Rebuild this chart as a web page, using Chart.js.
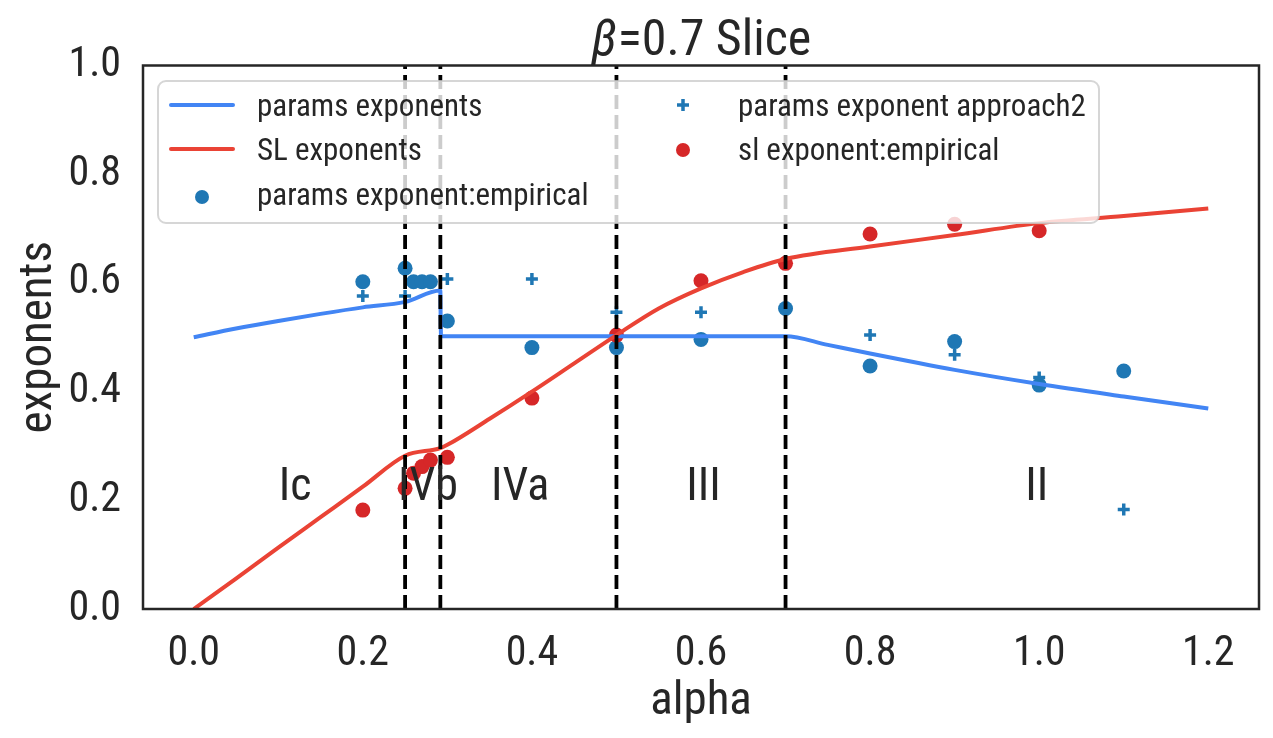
<!DOCTYPE html>
<html>
<head>
<meta charset="utf-8">
<script src="https://cdn.jsdelivr.net/npm/chart.js@4.4.1/dist/chart.umd.min.js"></script>
<style>
  html, body { margin: 0; padding: 0; background: #fff; }
  #wrap { width: 1273px; height: 738px; }
</style>
</head>
<body>
<div id="wrap"><canvas id="chart"></canvas></div>
<script>
// ---- data ----
const paramsLineX = [0, 0.05, 0.1, 0.15, 0.2, 0.25, 0.2917, 0.2920, 0.2925, 0.4, 0.5, 0.6, 0.7, 0.75, 0.8, 0.9, 1.0, 1.1, 1.2];
const paramsLineY = [0.500, 0.516, 0.530, 0.543, 0.555, 0.565, 0.586, 0.545, 0.502, 0.502, 0.502, 0.502, 0.502, 0.486, 0.470, 0.440, 0.414, 0.391, 0.369];

const slLineX = [0, 0.05, 0.1, 0.15, 0.2, 0.25, 0.2917, 0.3, 0.35, 0.4, 0.45, 0.5, 0.55, 0.6, 0.65, 0.7, 0.8, 0.9, 1.0, 1.1, 1.2];
const slLineY = [0, 0.056, 0.113, 0.169, 0.225, 0.282, 0.296, 0.302, 0.350, 0.400, 0.452, 0.504, 0.553, 0.590, 0.620, 0.644, 0.667, 0.688, 0.710, 0.723, 0.737];

const paramsEmpX = [0.2, 0.25, 0.26, 0.27, 0.28, 0.3, 0.4, 0.5, 0.6, 0.7, 0.8, 0.9, 1.0, 1.1];
const paramsEmpY = [0.602, 0.627, 0.602, 0.602, 0.602, 0.530, 0.481, 0.481, 0.496, 0.553, 0.447, 0.492, 0.412, 0.438];

const approach2X = [0.2, 0.25, 0.3, 0.4, 0.5, 0.6, 0.7, 0.8, 0.9, 1.0, 1.1];
const approach2Y = [0.576, 0.576, 0.607, 0.607, 0.546, 0.546, 0.553, 0.504, 0.468, 0.426, 0.183];

const slEmpX = [0.2, 0.25, 0.26, 0.27, 0.28, 0.3, 0.4, 0.5, 0.6, 0.7, 0.8, 0.9, 1.0];
const slEmpY = [0.182, 0.222, 0.250, 0.262, 0.274, 0.279, 0.388, 0.504, 0.604, 0.636, 0.690, 0.708, 0.696];

const boundaries = [0.25, 0.2917, 0.5, 0.7];
const regionNames = ['Ic', 'IVb', 'IVa', 'III', 'II'];
const regionX = [0.12, 0.277, 0.386, 0.603, 0.997];
const regionY = 0.2;

const xTicks = [0, 0.2, 0.4, 0.6, 0.8, 1.0, 1.2];
const yTicks = [0, 0.2, 0.4, 0.6, 0.8, 1.0];

// ---- styling ----
const FONT = "'Roboto Condensed', 'Liberation Sans Narrow', Roboto, sans-serif";
const TEXT = '#262626';
const BLUE_LINE = '#4285f4';
const RED_LINE = '#ea4335';
const BLUE_PT = '#1f77b4';
const RED_PT = '#d62728';

const pts = (xs, ys) => xs.map((x, i) => ({ x: x, y: ys[i] }));

// vertical dashed boundaries + region labels, drawn over the data
const overlayPlugin = {
  id: 'overlay',
  afterDatasetsDraw(chart) {
    const { ctx, chartArea, scales } = chart;
    ctx.save();
    ctx.beginPath();
    ctx.rect(chartArea.left, chartArea.top, chartArea.right - chartArea.left, chartArea.bottom - chartArea.top);
    ctx.clip();
    ctx.strokeStyle = '#000';
    ctx.lineWidth = 3.8;
    ctx.setLineDash([14, 6]);
    boundaries.forEach(b => {
      const px = scales.x.getPixelForValue(b);
      ctx.beginPath();
      ctx.moveTo(px, chartArea.bottom);
      ctx.lineTo(px, chartArea.top);
      ctx.stroke();
    });
    ctx.setLineDash([]);
    ctx.fillStyle = TEXT;
    ctx.font = '46px ' + FONT;
    ctx.textAlign = 'center';
    ctx.textBaseline = 'alphabetic';
    regionNames.forEach((name, i) => {
      ctx.fillText(name, scales.x.getPixelForValue(regionX[i]), scales.y.getPixelForValue(regionY));
    });
    ctx.restore();
  },
  afterDraw(chart) {
    const { ctx, chartArea } = chart;
    ctx.save();
    // frame
    ctx.strokeStyle = TEXT;
    ctx.lineWidth = 2.5;
    ctx.strokeRect(chartArea.left, chartArea.top, chartArea.right - chartArea.left, chartArea.bottom - chartArea.top);

    // title with italic beta
    const cx = (chartArea.left + chartArea.right) / 2;
    const ty = 55;
    ctx.fillStyle = TEXT;
    ctx.textBaseline = 'alphabetic';
    ctx.font = 'italic 50px ' + FONT;
    const wb = ctx.measureText('\u03b2').width;
    ctx.font = '50px ' + FONT;
    const rest = '=0.7 Slice';
    const wr = ctx.measureText(rest).width;
    const x0 = cx - (wb + wr) / 2;
    ctx.font = 'italic 50px ' + FONT;
    ctx.textAlign = 'left';
    ctx.fillText('\u03b2', x0, ty);
    ctx.font = '50px ' + FONT;
    ctx.fillText(rest, x0 + wb + 1, ty);

    // legend box
    const lx = 158, ly = 81, lw = 941, lh = 142, r = 8;
    ctx.beginPath();
    ctx.moveTo(lx + r, ly);
    ctx.arcTo(lx + lw, ly, lx + lw, ly + lh, r);
    ctx.arcTo(lx + lw, ly + lh, lx, ly + lh, r);
    ctx.arcTo(lx, ly + lh, lx, ly, r);
    ctx.arcTo(lx, ly, lx + lw, ly, r);
    ctx.closePath();
    ctx.fillStyle = 'rgba(255,255,255,0.8)';
    ctx.fill();
    ctx.strokeStyle = 'rgba(204,204,204,0.8)';
    ctx.lineWidth = 2;
    ctx.stroke();

    const rows = [105, 149, 194];
    ctx.font = '31px ' + FONT;
    ctx.textBaseline = 'middle';
    ctx.textAlign = 'left';
    ctx.lineCap = 'round';
    const items = chart.data.datasets;
    // column 1
    [[items[0], 0], [items[1], 1], [items[2], 2]].forEach(([ds, row]) => {
      const y = rows[row];
      if (ds.showLine) {
        ctx.strokeStyle = ds.borderColor;
        ctx.lineWidth = 4;
        ctx.beginPath();
        ctx.moveTo(171, y);
        ctx.lineTo(233, y);
        ctx.stroke();
      } else {
        ctx.fillStyle = ds.backgroundColor;
        ctx.beginPath();
        ctx.arc(202, y + 3, 7, 0, Math.PI * 2);
        ctx.fill();
      }
      ctx.fillStyle = TEXT;
      ctx.fillText(ds.label, 257, y + 3);
    });
    // column 2
    [[items[3], 0], [items[4], 1]].forEach(([ds, row]) => {
      const y = rows[row];
      if (ds.pointStyle === 'cross') {
        ctx.strokeStyle = ds.borderColor;
        ctx.lineWidth = 3.5;
        ctx.lineCap = 'butt';
        ctx.beginPath();
        ctx.moveTo(677, y); ctx.lineTo(689, y);
        ctx.moveTo(683, y - 6); ctx.lineTo(683, y + 6);
        ctx.stroke();
      } else {
        ctx.fillStyle = ds.backgroundColor;
        ctx.beginPath();
        ctx.arc(683, y + 1, 7, 0, Math.PI * 2);
        ctx.fill();
      }
      ctx.fillStyle = TEXT;
      ctx.fillText(ds.label, 738, y + 3);
    });
    ctx.restore();
  }
};

new Chart(document.getElementById('chart'), {
  type: 'scatter',
  data: {
    datasets: [
      { label: 'params exponents', data: pts(paramsLineX, paramsLineY), showLine: true, borderColor: BLUE_LINE,
        backgroundColor: BLUE_LINE, borderWidth: 4, pointRadius: 0, cubicInterpolationMode: 'monotone', order: 1 },
      { label: 'SL exponents', data: pts(slLineX, slLineY), showLine: true, borderColor: RED_LINE,
        backgroundColor: RED_LINE, borderWidth: 4, pointRadius: 0, cubicInterpolationMode: 'monotone', order: 0 },
      { label: 'params exponent:empirical', data: pts(paramsEmpX, paramsEmpY), showLine: false,
        backgroundColor: BLUE_PT, borderColor: BLUE_PT, borderWidth: 0, pointRadius: 7.5, order: 4 },
      { label: 'params exponent approach2', data: pts(approach2X, approach2Y), showLine: false, pointStyle: 'cross',
        backgroundColor: BLUE_PT, borderColor: BLUE_PT, borderWidth: 3.5, pointRadius: 6, order: 3 },
      { label: 'sl exponent:empirical', data: pts(slEmpX, slEmpY), showLine: false,
        backgroundColor: RED_PT, borderColor: RED_PT, borderWidth: 0, pointRadius: 7.5, order: 2 }
    ]
  },
  options: {
    responsive: true,
    maintainAspectRatio: false,
    animation: false,
    layout: { padding: { top: 65.5, right: 14, left: 0, bottom: 0 } },
    plugins: { legend: { display: false }, title: { display: false }, tooltip: { enabled: false } },
    scales: {
      x: {
        type: 'linear', min: -0.06, max: 1.26,
        afterFit(scale) { scale.height = 129; },
        afterBuildTicks(scale) { scale.ticks = xTicks.map(v => ({ value: v })); },
        grid: { display: false, drawTicks: false },
        border: { display: false },
        ticks: { color: TEXT, font: { family: FONT, size: 42 }, padding: 20, maxRotation: 0,
          callback: v => v.toFixed(1) },
        title: { display: true, text: 'alpha', color: TEXT, font: { family: FONT, size: 47 }, padding: { bottom: 8 } }
      },
      y: {
        type: 'linear', min: 0, max: 1,
        afterFit(scale) { scale.width = 143; },
        afterBuildTicks(scale) { scale.ticks = yTicks.map(v => ({ value: v })); },
        grid: { display: false, drawTicks: false },
        border: { display: false },
        ticks: { color: TEXT, font: { family: FONT, size: 42 }, padding: 22,
          callback: v => v.toFixed(1) },
        title: { display: true, text: 'exponents', color: TEXT, font: { family: FONT, size: 47 }, padding: { top: 11 } }
      }
    }
  },
  plugins: [overlayPlugin]
});
</script>
</body>
</html>
